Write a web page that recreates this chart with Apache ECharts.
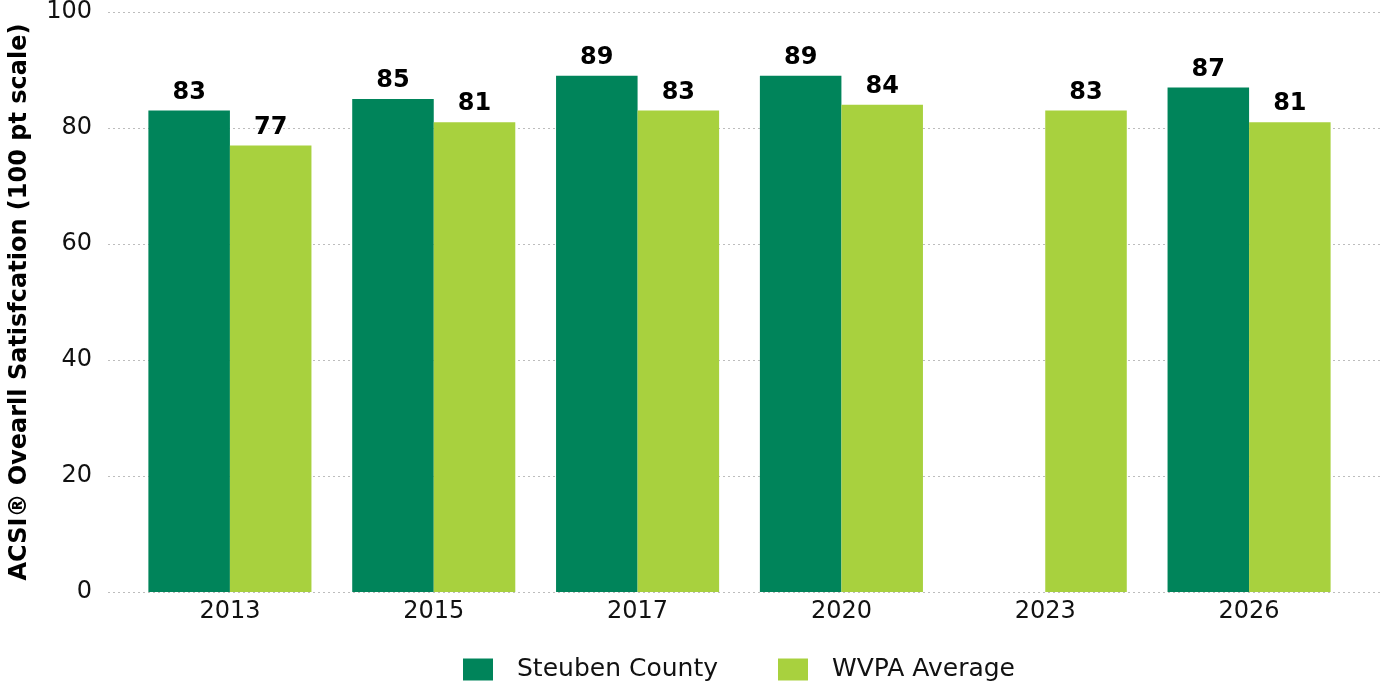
<!DOCTYPE html>
<html lang="en">
<head>
  <meta charset="UTF-8">
  <title>ACSI Overall Satisfaction</title>
  <script src="https://cdn.jsdelivr.net/npm/echarts@6/dist/echarts.min.js"></script>
  <style>
    html, body { margin: 0; padding: 0; background: #fff; }
    #main { width: 1383px; height: 684px; }
  </style>
</head>
<body>
  <div id="main"></div>
  <script type="text/javascript">
    var years = ['2013', '2015', '2017', '2020', '2023', '2026'];
    var steuben = [83, 85, 89, 89, null, 87];
    var wvpa = [77, 81, 83, 84, 83, 81];
    var yTicks = [0, 20, 40, 60, 80, 100];

    var FONT = '"DejaVu Sans", "Liberation Sans", Arial, sans-serif';
    var DARK = '#00845A';
    var LIGHT = '#A8D13E';

    var myChart = echarts.init(document.getElementById('main'));

    var barLabel = {
      show: true,
      position: 'top',
      distance: 6,
      color: '#000',
      fontFamily: FONT,
      fontWeight: 'bold',
      fontSize: 24
    };

    var option = {
      animation: false,
      // grid 0: wide, only gridlines + y labels; grid 1: bars
      grid: [
        { left: 98, right: 0, top: 12, bottom: 92 },
        { left: 128, right: 32, top: 12, bottom: 92 }
      ],
      legend: {
        top: 652,
        left: 458,
        itemWidth: 30,
        itemHeight: 22,
        itemGap: 60,
        icon: 'rect',
        textStyle: { fontFamily: FONT, fontSize: 25, color: '#111', padding: [0, 0, 0, 19] },
        data: ['Steuben County', 'WVPA Average']
      },
      xAxis: [
        { gridIndex: 0, type: 'value', show: false, min: 0, max: 1 },
        {
          gridIndex: 1,
          type: 'category',
          data: years,
          axisLine: { show: false },
          axisTick: { show: false },
          axisLabel: { fontFamily: FONT, fontSize: 24, color: '#111', margin: 8 }
        }
      ],
      yAxis: [
        {
          gridIndex: 0,
          type: 'value',
          min: yTicks[0],
          max: yTicks[yTicks.length - 1],
          interval: 20,
          name: 'ACSI® Ovearll Satisfcation (100 pt scale)',
          nameLocation: 'middle',
          nameGap: 76,
          nameTextStyle: { fontFamily: FONT, fontWeight: 'bold', fontSize: 24, color: '#000' },
          axisLine: { show: false },
          axisTick: { show: false },
          axisLabel: { fontFamily: FONT, fontSize: 24, color: '#111', margin: 16 },
          splitLine: { lineStyle: { color: '#bdbdbd', type: [2, 3], width: 1 } }
        },
        {
          gridIndex: 1,
          type: 'value',
          min: 0,
          max: 100,
          show: false,
          splitLine: { show: false }
        }
      ],
      series: [
        {
          name: 'Steuben County',
          type: 'bar',
          xAxisIndex: 1,
          yAxisIndex: 1,
          data: steuben,
          barGap: '0%',
          barCategoryGap: '20%',
          itemStyle: { color: DARK },
          label: barLabel
        },
        {
          name: 'WVPA Average',
          type: 'bar',
          xAxisIndex: 1,
          yAxisIndex: 1,
          data: wvpa,
          barGap: '0%',
          barCategoryGap: '20%',
          itemStyle: { color: LIGHT },
          label: barLabel
        }
      ]
    };

    myChart.setOption(option);
  </script>
</body>
</html>
